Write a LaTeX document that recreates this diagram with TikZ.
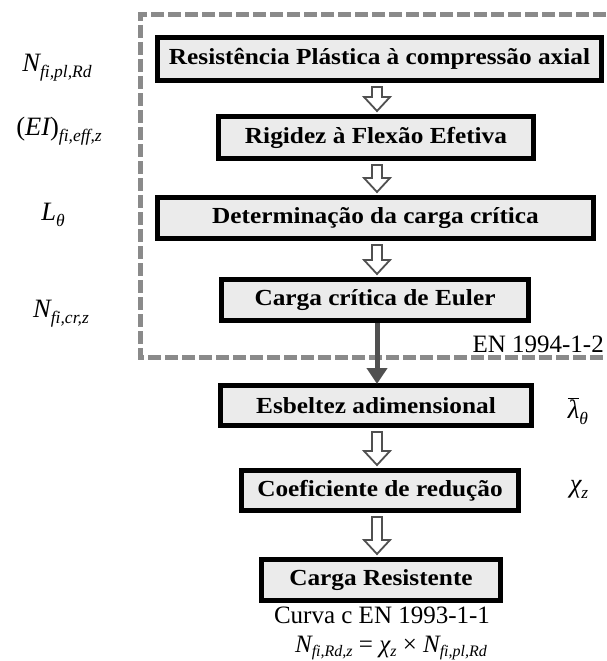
\documentclass[tikz,border=0pt]{standalone}
\usepackage{fontspec}
\setmainfont{Liberation Serif}
\newfontfamily\boxfont[FakeStretch=1.1]{Liberation Serif}
\usetikzlibrary{arrows.meta,calc}
\definecolor{boxfill}{RGB}{235,235,235}
\definecolor{framegray}{RGB}{138,138,138}
\definecolor{arrowgray}{RGB}{80,80,80}
\newcommand\sbx[1]{\raisebox{-6pt}{\fontsize{17.5}{17.5}\selectfont\itshape #1}}
\newcommand\sbf[1]{\raisebox{-4pt}{\fontsize{16}{16}\selectfont\itshape #1}}
\newcommand\hollowarrow[2]{%
  \draw[harrow] let \p1=($(#1.south -| axis)+(0,4)$), \p2=($(#2.north -| axis)+(0,-3)$) in
   (\x1-5pt,\y1) -- (\x1+5pt,\y1) -- (\x1+5pt,\y2+14pt) -- (\x1+13pt,\y2+14pt) -- (\x1,\y2)
   -- (\x1-13pt,\y2+14pt) -- (\x1-5pt,\y2+14pt) -- cycle;}
\tikzset{
  stepbox/.style={draw=black, line width=5pt, fill=boxfill, inner sep=0pt,
    font=\boxfont\bfseries\fontsize{23}{27}\selectfont},
  harrow/.style={draw=arrowgray, line width=1.8pt, fill=white, line join=miter},
  darkarrow/.style={draw=arrowgray, line width=5pt, -{Triangle[length=16pt,width=20pt]}},
  frame/.style={draw=framegray, line width=5pt, dash pattern=on 13pt off 4pt},
  lab/.style={inner sep=0pt, font=\fontsize{26.5}{30}\selectfont},
  flab/.style={inner sep=0pt, font=\fontsize{25}{28}\selectfont},
  note/.style={inner sep=0pt, font=\fontsize{25}{29}\selectfont}
}
\begin{document}
\begin{tikzpicture}[x=1pt,y=-1pt]
\useasboundingbox (0,0) rectangle (606,661);
\clip (0,0) rectangle (606,661);
\coordinate (axis) at (377,0);
% dashed frame (right side outside the picture)
\draw[frame] (640,15) -- (140,15) -- (140,357) -- (640,357);
\node[note, anchor=base east] (en4) at (604,352) {EN 1994-1-2};
% boxes
\node[stepbox, minimum width=444pt, minimum height=43pt] (b1) at (379.5,59) {Resistência Plástica à compressão axial};
\node[stepbox, minimum width=315pt, minimum height=42pt] (b2) at (376,137.5) {Rigidez à Flexão Efetiva};
\node[stepbox, minimum width=436pt, minimum height=41pt] (b3) at (375.5,218) {Determinação da carga crítica};
\node[stepbox, minimum width=307pt, minimum height=41pt] (b4) at (375,300) {Carga crítica de Euler};
\node[stepbox, minimum width=311pt, minimum height=40pt] (b5) at (376,405.5) {Esbeltez adimensional};
\node[stepbox, minimum width=277pt, minimum height=40pt] (b6) at (380,490.5) {Coeficiente de redução};
\node[stepbox, minimum width=239pt, minimum height=41pt] (b7) at (381,580) {Carga Resistente};
% arrows
\hollowarrow{b1}{b2}
\hollowarrow{b2}{b3}
\hollowarrow{b3}{b4}
\draw[darkarrow] (b4.south -| axis) -- ($(b5.north -| axis)+(0,1)$);
\hollowarrow{b5}{b6}
\hollowarrow{b6}{b7}
% side labels
\node[lab, anchor=base] (l1) at (57,71) {\itshape N\sbx{fi,pl,Rd}};
\node[lab, anchor=base] (l2) at (59,135) {(\itshape EI\upshape)\sbx{fi,eff,z}};
\node[lab, anchor=base] (l3) at (53,220) {\itshape L\sbx{θ}};
\node[lab, anchor=base] (l4) at (61,317) {\itshape N\sbx{fi,cr,z}};
\node[lab, anchor=base] (r1) at (578,418) {$\overline{\hbox{\itshape λ}}$\sbx{θ}};
\node[lab, anchor=base] (r2) at (579,492) {\itshape χ\sbx{z}};
% bottom notes
\node[note, anchor=base] (curva) at (382,623) {Curva c EN 1993-1-1};
\node[flab, anchor=base] (form) at (391,652) {\itshape N\sbf{fi,Rd,z} \upshape= \itshape χ\sbf{z} \upshape× \itshape N\sbf{fi,pl,Rd}};
\end{tikzpicture}
\end{document}
